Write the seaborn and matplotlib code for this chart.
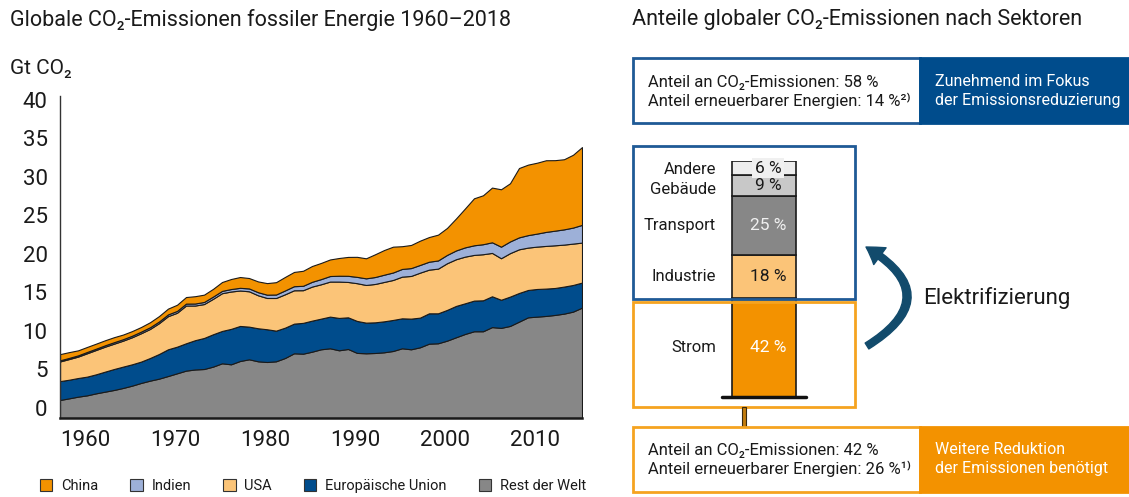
import numpy as np
import pandas as pd
import seaborn as sns
import matplotlib.pyplot as plt
import matplotlib.transforms as mtransforms
from matplotlib.patches import Rectangle, FancyArrowPatch, Patch

sns.set_theme(style="white")
plt.rcParams['font.family'] = ['Roboto', 'DejaVu Sans']
plt.rcParams['text.color'] = '#1a1a1a'

# --- data (Gt CO2) ---
years = list(range(1960, 2019))

rest_der_welt = [2.34, 2.55, 2.77, 2.94, 3.20, 3.42, 3.64, 3.90, 4.20, 4.55,
                 4.85, 5.11, 5.45, 5.80, 6.15, 6.30, 6.36, 6.67, 7.10, 6.97,
                 7.40, 7.62, 7.36, 7.27, 7.36, 7.79, 8.40, 8.35, 8.61, 8.92,
                 9.05, 8.79, 8.96, 8.45, 8.40, 8.44, 8.53, 8.70, 9.05, 8.92,
                 9.18, 9.65, 9.70, 10.04, 10.48, 10.91, 11.26, 11.26, 11.80, 11.70,
                 11.95, 12.51, 13.07, 13.16, 13.25, 13.38, 13.55, 13.81, 14.33]
eu = [2.45, 2.42, 2.42, 2.43, 2.47, 2.60, 2.72, 2.77, 2.77, 2.77,
      2.94, 3.20, 3.47, 3.46, 3.55, 3.80, 4.03, 4.20, 4.20, 4.60,
      4.55, 4.24, 4.29, 4.25, 3.98, 3.94, 3.85, 4.00, 4.03, 3.98,
      4.11, 4.20, 4.11, 4.15, 3.98, 3.98, 4.02, 4.03, 3.89, 3.98,
      3.85, 3.94, 3.89, 3.99, 4.07, 3.98, 3.98, 4.02, 4.00, 3.65,
      3.81, 3.72, 3.55, 3.59, 3.55, 3.50, 3.51, 3.46, 3.25]
usa = [2.55, 2.68, 2.78, 3.03, 3.16, 3.24, 3.29, 3.37, 3.51, 3.68,
       3.77, 4.00, 4.30, 4.40, 4.90, 4.50, 4.40, 4.60, 4.90, 4.85,
       4.60, 4.59, 4.28, 4.06, 4.24, 4.33, 4.33, 4.24, 4.42, 4.46,
       4.55, 4.72, 4.59, 4.90, 4.89, 4.98, 5.11, 5.19, 5.41, 5.54,
       5.84, 5.67, 5.80, 6.06, 6.06, 6.06, 5.93, 5.98, 5.63, 5.39,
       5.64, 5.67, 5.50, 5.50, 5.54, 5.54, 5.45, 5.37, 5.19]
indien = [0.15, 0.15, 0.16, 0.17, 0.17, 0.18, 0.19, 0.19, 0.20, 0.21,
          0.22, 0.22, 0.23, 0.24, 0.25, 0.26, 0.27, 0.29, 0.30, 0.32,
          0.35, 0.37, 0.40, 0.43, 0.45, 0.50, 0.53, 0.57, 0.62, 0.67,
          0.72, 0.76, 0.80, 0.82, 0.86, 0.90, 0.94, 0.97, 1.00, 1.02,
          1.00, 1.03, 1.06, 1.08, 1.14, 1.20, 1.25, 1.30, 1.38, 1.50,
          1.52, 1.55, 1.62, 1.69, 1.82, 1.90, 1.98, 2.08, 2.30]
china = [0.80, 0.75, 0.65, 0.65, 0.65, 0.65, 0.65, 0.60, 0.60, 0.60,
         0.65, 0.70, 0.75, 0.80, 0.85, 0.95, 0.95, 1.00, 1.15, 1.30,
         1.40, 1.35, 1.40, 1.50, 1.60, 1.75, 1.85, 1.95, 2.05, 2.10,
         2.15, 2.30, 2.45, 2.60, 2.60, 2.95, 3.20, 3.35, 2.95, 3.00,
         3.15, 3.20, 3.35, 3.50, 4.15, 5.05, 6.10, 6.35, 7.10, 7.45,
         7.55, 9.00, 9.15, 9.20, 9.30, 9.15, 9.10, 9.45, 10.10]

legend_names = ["China", "Indien", "USA", "Europäische Union", "Rest der Welt"]
legend_colors = ["#F39200", "#9DB0D8", "#FBC478", "#004C8C", "#878787"]

x_ticks = [1960, 1970, 1980, 1990, 2000, 2010]
y_ticks = [0, 5, 10, 15, 20, 25, 30, 35, 40]

sectors = ["Strom", "Industrie", "Transport", "Gebäude", "Andere"]
sector_shares = [42, 18, 25, 9, 6]
sector_colors = ["#F39200", "#FBC478", "#878787", "#C8C8C8", "#EDEDED"]
sector_text_colors = ["white", "#1a1a1a", "#F0F0F0", "#1a1a1a", "#1a1a1a"]
# small vertical nudge of the sector names (bar units) so they don't collide
name_nudge = {"Andere": -0.8, "Gebäude": -1.5}

df = pd.DataFrame({"Jahr": years, "China": china, "Indien": indien, "USA": usa,
                   "Europäische Union": eu, "Rest der Welt": rest_der_welt})

W, H = 1129, 497
fig = plt.figure(figsize=(W / 100, H / 100), dpi=100)


def fx(x):
    return x / W


def fy(y):
    return 1 - y / H


# --- left: stacked area chart ---
ax = fig.add_axes([fx(60), fy(418), (582 - 60) / W, (418 - 96) / H])
stack_order = legend_names[::-1]
ax.stackplot(df["Jahr"], *[df[n] for n in stack_order],
             colors=legend_colors[::-1], edgecolor="#1a1a1a", linewidth=0.8)
ax.set_xlim(1960, 2018)
ax.set_ylim(0, 41.8)
ax.set_xticks(x_ticks)
ax.set_yticks(y_ticks)
ax.tick_params(axis="both", length=0, labelsize=16, labelcolor="#1a1a1a")
ax.tick_params(axis="y", pad=9)
ax.tick_params(axis="x", pad=9)
for lab in ax.get_xticklabels():
    lab.set_ha("left")
shift = mtransforms.ScaledTranslation(0, 0.10, fig.dpi_scale_trans)
for lab in ax.get_yticklabels():
    lab.set_transform(lab.get_transform() + shift)
ax.spines[["top", "right"]].set_visible(False)
ax.spines["left"].set_color("#333333")
ax.spines["left"].set_linewidth(1.0)
ax.spines["bottom"].set_color("#1a1a1a")
ax.spines["bottom"].set_linewidth(1.8)
ax.grid(False)

fig.text(fx(10), fy(20), "Globale CO₂-Emissionen fossiler Energie 1960–2018",
         fontsize=15.5, va="center")
fig.text(fx(10), fy(68), "Gt CO₂", fontsize=15, va="center")

handles = [Patch(facecolor=c, edgecolor="#333333", linewidth=0.8) for c in legend_colors]
fig.legend(handles, legend_names, loc="center left", bbox_to_anchor=(fx(34), fy(486)),
           ncol=5, frameon=False, fontsize=10.5, handlelength=0.85, handleheight=0.85,
           handletextpad=0.6, columnspacing=2.2, borderaxespad=0)

# --- right: sector shares ---
fig.text(fx(632), fy(20), "Anteile globaler CO₂-Emissionen nach Sektoren",
         fontsize=15.5, va="center")

blue = "#004C8C"
blue_edge = "#1F5A96"
orange = "#F39200"
orange_edge = "#F5A320"

# top info box
fig.add_artist(Rectangle((fx(633), fy(123)), (920 - 633) / W, (123 - 58) / H,
                         transform=fig.transFigure, facecolor="white",
                         edgecolor=blue_edge, linewidth=2))
fig.add_artist(Rectangle((fx(920), fy(123)), (W - 920) / W, (123 - 58) / H,
                         transform=fig.transFigure, facecolor=blue,
                         edgecolor=blue, linewidth=2))
fig.text(fx(648), fy(82), "Anteil an CO₂-Emissionen: 58 %", fontsize=12, va="center")
fig.text(fx(648), fy(101), "Anteil erneuerbarer Energien: 14 %²⁾", fontsize=12, va="center")
fig.text(fx(935), fy(82), "Zunehmend im Fokus", fontsize=11.5, va="center", color="white")
fig.text(fx(935), fy(101), "der Emissionsreduzierung", fontsize=11.5, va="center", color="white")

# frames around the bar
fig.add_artist(Rectangle((fx(633), fy(299)), (855 - 633) / W, (299 - 146) / H,
                         transform=fig.transFigure, facecolor="none",
                         edgecolor=blue_edge, linewidth=2))
fig.add_artist(Rectangle((fx(633), fy(407)), (855 - 633) / W, (407 - 302) / H,
                         transform=fig.transFigure, facecolor="none",
                         edgecolor=orange_edge, linewidth=2))

# stacked sector bar
bax = fig.add_axes([fx(722), fy(397), 84 / W, 236 / H])
bottoms = np.cumsum([0] + sector_shares[:-1])
bax.bar([0] * len(sectors), sector_shares, bottom=bottoms, width=64 / 84,
        color=sector_colors, edgecolor="#1a1a1a", linewidth=1.2)
bax.set_xlim(-0.5, 0.5)
bax.set_ylim(0, 100)
bax.axis("off")
bax.axhline(0, color="#111111", linewidth=2.5, clip_on=False)
name_tf = mtransforms.blended_transform_factory(bax.transAxes, bax.transData)
for name, share, b, tc in zip(sectors, sector_shares, bottoms, sector_text_colors):
    yc = b + share / 2
    kw = {}
    if name == "Andere":
        kw["bbox"] = dict(boxstyle="square,pad=0.15", fc="#F0F0F0", ec="none")
    bax.text(0.05, yc, f"{share} %", ha="center", va="center", color=tc,
             fontsize=12.5, **kw)
    bax.text(-0.07, yc + name_nudge.get(name, 0), name, ha="right", va="center",
             fontsize=12, transform=name_tf)

# connector to the lower box
fig.add_artist(Rectangle((fx(742), fy(427)), 4 / W, 20 / H, transform=fig.transFigure,
                         facecolor="#C27C0E", edgecolor="#3a2a10", linewidth=0.8))

# lower info box
fig.add_artist(Rectangle((fx(633), fy(492)), (920 - 633) / W, (492 - 427) / H,
                         transform=fig.transFigure, facecolor="white",
                         edgecolor=orange_edge, linewidth=2))
fig.add_artist(Rectangle((fx(920), fy(492)), (W - 920) / W, (492 - 427) / H,
                         transform=fig.transFigure, facecolor=orange,
                         edgecolor=orange, linewidth=2))
fig.text(fx(648), fy(450), "Anteil an CO₂-Emissionen: 42 %", fontsize=12, va="center")
fig.text(fx(648), fy(469), "Anteil erneuerbarer Energien: 26 %¹⁾", fontsize=12, va="center")
fig.text(fx(935), fy(450), "Weitere Reduktion", fontsize=11.5, va="center", color="white")
fig.text(fx(935), fy(469), "der Emissionen benötigt", fontsize=11.5, va="center", color="white")

# curved arrow
arrow = FancyArrowPatch((fx(867), fy(346)), (fx(866), fy(247)), transform=fig.transFigure,
                        connectionstyle="arc3,rad=0.82",
                        arrowstyle="simple,head_length=1.2,head_width=1.5,tail_width=0.5",
                        mutation_scale=10, color="#124B6C", shrinkA=0, shrinkB=0)
fig.add_artist(arrow)
fig.text(fx(923), fy(298), "Elektrifizierung", fontsize=16, va="center")

fig.savefig("out.png", dpi=100)
